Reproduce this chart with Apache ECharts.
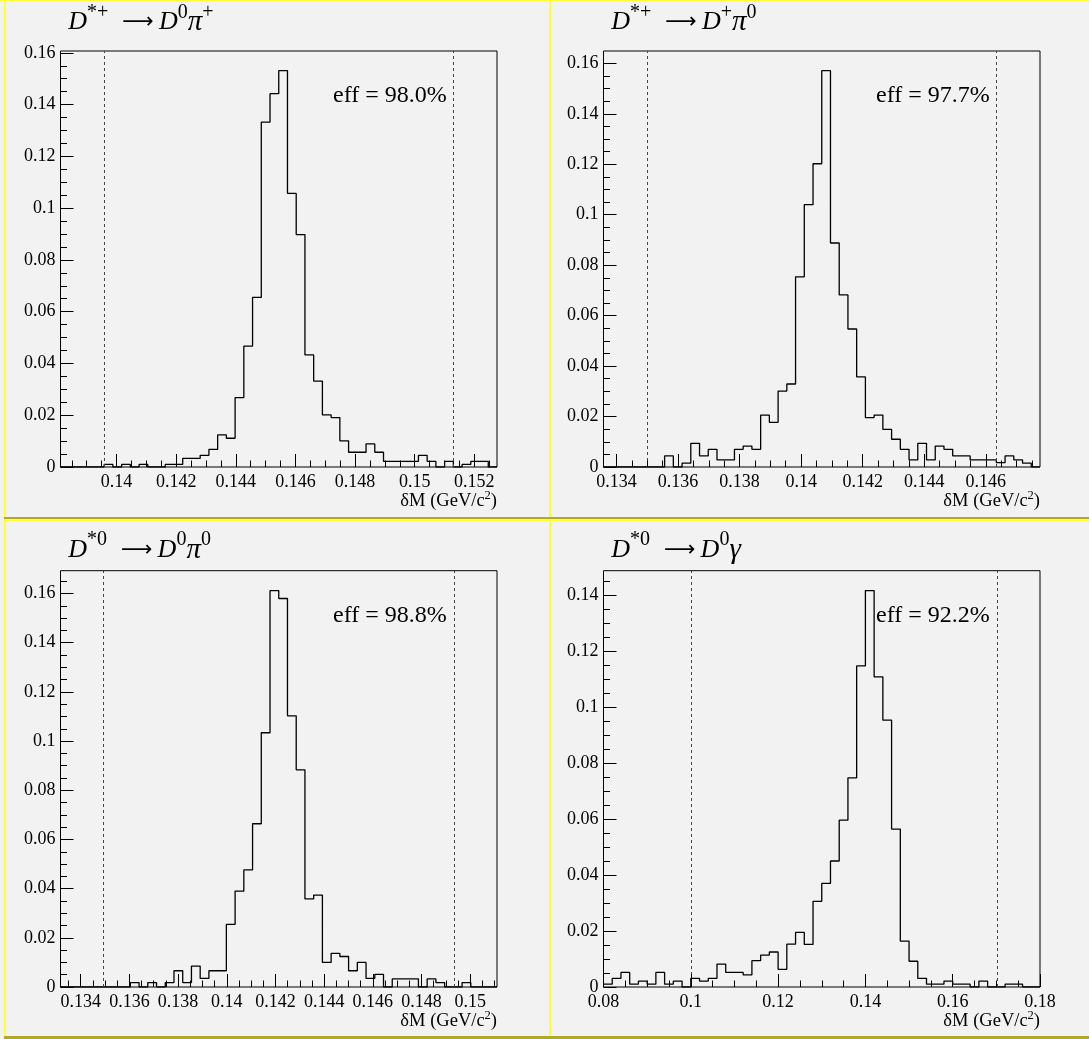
<!DOCTYPE html>
<html>
<head>
<meta charset="utf-8">
<script src="https://cdn.jsdelivr.net/npm/echarts@6/dist/echarts.min.js"></script>
<style>
    html, body { margin: 0; padding: 0; background: #f2f2f2; }
    #chart { width: 1089px; height: 1039px; }
</style>
</head>
<body>
<div id="chart"></div>
<script>
// histogram contents (50 bins each)
const binsDstpD0pi = [0, 0, 0, 0, 0, 0.001, 0, 0.001, 0, 0.001,
    0, 0, 0.001, 0.001, 0.0033, 0.0033, 0.0045, 0.0068, 0.0124, 0.0111,
    0.0268, 0.0467, 0.0655, 0.1332, 0.1442, 0.1531, 0.1057, 0.0898, 0.0433, 0.0332,
    0.0201, 0.0191, 0.0101, 0.0057, 0.0057, 0.0089, 0.0057, 0.0022, 0.0022, 0.0022,
    0.0022, 0.0045, 0.0022, 0, 0.0022, 0, 0.001, 0.0022, 0.0022, 0]
const binsDstpDppi0 = [0, 0, 0, 0, 0, 0, 0, 0.0044, 0, 0.0015,
    0.0094, 0.0044, 0.007, 0.0028, 0.0028, 0.007, 0.0083, 0.007, 0.0206, 0.0177,
    0.0301, 0.0329, 0.0754, 0.104, 0.1202, 0.1571, 0.0888, 0.0682, 0.0547, 0.0357,
    0.0196, 0.0206, 0.0149, 0.011, 0.007, 0.0028, 0.0094, 0.0028, 0.0083, 0.007,
    0.0044, 0.0044, 0.0028, 0.0028, 0.0028, 0.0017, 0.0044, 0.0028, 0.0015, 0]
const binsDst0D0pi0 = [0, 0, 0, 0, 0, 0, 0, 0, 0.0018, 0,
    0.0018, 0, 0.0018, 0.0066, 0.0018, 0.0085, 0.0035, 0.0066, 0.0066, 0.0255,
    0.039, 0.0476, 0.0664, 0.1034, 0.1612, 0.158, 0.1103, 0.0883, 0.0358, 0.0374,
    0.01, 0.0137, 0.0124, 0.0066, 0.01, 0.0035, 0.0051, 0, 0.0033, 0.0033,
    0.0033, 0, 0.0033, 0.0018, 0, 0, 0.0018, 0, 0, 0]
const binsDst0D0gam = [0.001, 0.0031, 0.0052, 0.001, 0.0021, 0.001, 0.0052, 0.001, 0.0021, 0,
    0.0031, 0.0021, 0.0031, 0.0082, 0.0052, 0.0052, 0.0043, 0.0094, 0.0114, 0.0125,
    0.0063, 0.0153, 0.0195, 0.0152, 0.0306, 0.037, 0.045, 0.0596, 0.0747, 0.1147,
    0.1416, 0.1108, 0.0953, 0.0564, 0.0164, 0.0092, 0.0031, 0.001, 0.001, 0.0021,
    0.001, 0.001, 0, 0.0021, 0, 0, 0.001, 0.001, 0, 0]

// axis ranges, cut windows (dashed lines)
const xRanges = [[0.13812, 0.15276], [0.13358, 0.14776], [0.13317, 0.1511], [0.08, 0.18]]
const yMaxes = [0.1607, 0.1649, 0.1693, 0.1487]
const cutLines = [[0.13958, 0.1513], [0.135, 0.14634], [0.13494, 0.14933], [0.1, 0.1703]]

// tick labels
const xTicks1 = [0.14, 0.142, 0.144, 0.146, 0.148, 0.15, 0.152]
const xTicks2 = [0.134, 0.136, 0.138, 0.14, 0.142, 0.144, 0.146]
const xTicks3 = [0.134, 0.136, 0.138, 0.14, 0.142, 0.144, 0.146, 0.148, 0.15]
const xTicks4 = [0.08, 0.1, 0.12, 0.14, 0.16, 0.18]
const yTicks16 = [0, 0.02, 0.04, 0.06, 0.08, 0.1, 0.12, 0.14, 0.16]
const yTicks14 = [0, 0.02, 0.04, 0.06, 0.08, 0.1, 0.12, 0.14]

const decayTitles = [
    '{d|D}{s|*+}{a|⟶}{d|D}{s|0}{p|π}{s|+}',
    '{d|D}{s|*+}{a|⟶}{d|D}{s|+}{p|π}{s|0}',
    '{d|D}{s|*0}{a|⟶}{d|D}{s|0}{p|π}{s|0}',
    '{d|D}{s|*0}{a|⟶}{d|D}{s|0}{p|γ}',
]
const effLabels = ['eff = 98.0%', 'eff = 97.7%', 'eff = 98.8%', 'eff = 92.2%']
const xAxisTitle = '{m|δM (GeV/c}{s|2}{m|)}'

const serif = 'Liberation Serif'

// layout of each pad
const panels = [
    { bins: binsDstpD0pi, xTicks: xTicks1, yTicks: yTicks16, xMinor: 0.0005, box: { left: 60.5, top: 51, width: 436.5, height: 416 }, titleTop: 2.5, effTop: 83.5 },
    { bins: binsDstpDppi0, xTicks: xTicks2, yTicks: yTicks16, xMinor: 0.0005, box: { left: 603.5, top: 51, width: 436.5, height: 416 }, titleTop: 2.5, effTop: 83.5 },
    { bins: binsDst0D0pi0, xTicks: xTicks3, yTicks: yTicks16, xMinor: 0.0005, box: { left: 60.5, top: 570.7, width: 436.5, height: 416.3 }, titleTop: 530, effTop: 604 },
    { bins: binsDst0D0gam, xTicks: xTicks4, yTicks: yTicks14, xMinor: 0.005, box: { left: 603.5, top: 570.7, width: 436.5, height: 416.3 }, titleTop: 530, effTop: 604 },
]

// tick lengths in px
const MAJOR = 13
const MINOR = 6.5

function minorValues(min, max, step, majors) {
    let out = []
    let k0 = Math.ceil(min / step - 1e-9)
    let k1 = Math.floor(max / step + 1e-9)
    for (let k = k0; k <= k1; k++) {
        let v = +(k * step).toFixed(6)
        if (!majors.some((m) => Math.abs(m - v) < step / 10)) out.push(v)
    }
    return out
}

// step outline: one point per lower bin edge + closing point at the upper edge
function histPoints(bins, min, max) {
    let w = (max - min) / bins.length
    let pts = bins.map((v, i) => [min + i * w, v])
    pts.push([max, bins[bins.length - 1]])
    return pts
}

let grids = [], xAxes = [], yAxes = [], series = [], titles = []

panels.forEach((p, i) => {
    let [xMin, xMax] = xRanges[i]
    let yMax = yMaxes[i]
    let b = p.box
    grids.push({
        left: b.left, top: b.top, width: b.width, height: b.height,
        show: true, borderColor: '#000', borderWidth: 1, backgroundColor: 'transparent',
    })
    xAxes.push({
        type: 'value', gridIndex: i, min: xMin, max: xMax, position: 'bottom',
        axisLine: { show: false, onZero: false },
        splitLine: { show: false },
        axisTick: { show: false },
        axisLabel: {
            customValues: p.xTicks, formatter: (v) => String(v), margin: 6,
            fontFamily: serif, fontSize: 18, color: '#000',
        },
    })
    yAxes.push({
        type: 'value', gridIndex: i, min: 0, max: yMax, position: 'left',
        axisLine: { show: false, onZero: false },
        splitLine: { show: false },
        axisTick: { show: false },
        axisLabel: {
            customValues: p.yTicks, formatter: (v) => String(v), margin: 5,
            fontFamily: serif, fontSize: 18, color: '#000',
        },
    })

    // inward ROOT-style ticks as short segments in data coordinates
    let xLen = (len) => len / b.height * yMax
    let yLen = (len) => len / b.width * (xMax - xMin)
    let ticks = []
    p.xTicks.map((v) => [v, MAJOR])
        .concat(minorValues(xMin, xMax, p.xMinor, p.xTicks).map((v) => [v, MINOR]))
        .forEach(([v, len]) => ticks.push([{ coord: [v, 0] }, { coord: [v, xLen(len)] }]))
    p.yTicks.map((v) => [v, MAJOR])
        .concat(minorValues(0, yMax, 0.005, p.yTicks).map((v) => [v, MINOR]))
        .forEach(([v, len]) => ticks.push([{ coord: [xMin, v] }, { coord: [xMin + yLen(len), v] }]))
    let cuts = cutLines[i].map((v) => ({ xAxis: v, lineStyle: { color: '#444', width: 1, type: [3, 3] } }))

    series.push({
        type: 'line', step: 'end', xAxisIndex: i, yAxisIndex: i,
        data: histPoints(p.bins, xMin, xMax),
        symbol: 'none', showSymbol: false, silent: true,
        lineStyle: { color: '#000', width: 1.3 },
        markLine: {
            silent: true, symbol: 'none', precision: 6, label: { show: false },
            lineStyle: { color: '#000', width: 1, type: 'solid' },
            data: cuts.concat(ticks),
        },
    })
    // decay title
    titles.push({
        text: decayTitles[i], left: b.left + 7.8, top: p.titleTop, padding: 0,
        textStyle: {
            fontWeight: 'normal',
            rich: {
                d: { fontFamily: serif, fontStyle: 'italic', fontSize: 26, lineHeight: 40, color: '#000' },
                p: { fontFamily: serif, fontStyle: 'italic', fontSize: 29, lineHeight: 40, color: '#000' },
                s: { fontFamily: serif, fontSize: 20, lineHeight: 16, verticalAlign: 'top', color: '#000' },
                a: { fontFamily: 'DejaVu Sans', fontSize: 22, lineHeight: 40, padding: [0, 5, 0, 14], color: '#000' },
            },
        },
    })
    // efficiency
    titles.push({
        text: effLabels[i], left: b.left + 272.5, top: p.effTop, padding: 0,
        textStyle: { fontFamily: serif, fontWeight: 'normal', fontSize: 24, lineHeight: 24, color: '#000' },
    })
    // x axis title
    titles.push({
        text: xAxisTitle, right: 1089 - (b.left + b.width), top: b.top + b.height + 22, padding: 0,
        textStyle: {
            fontWeight: 'normal',
            rich: {
                m: { fontFamily: serif, fontSize: 18.5, lineHeight: 24, color: '#000' },
                s: { fontFamily: serif, fontSize: 12.5, lineHeight: 14, verticalAlign: 'top', color: '#000' },
            },
        },
    })
})

// pad borders
const yellow = '#ffff38'
const olive = '#b3a82a'
const borders = [
    { type: 'rect', shape: { x: 0, y: 0, width: 1089, height: 1 }, style: { fill: yellow } },
    { type: 'rect', shape: { x: 4, y: 0, width: 2, height: 1039 }, style: { fill: yellow } },
    { type: 'rect', shape: { x: 549, y: 0, width: 2, height: 1039 }, style: { fill: yellow } },
    { type: 'rect', shape: { x: 4, y: 517, width: 1085, height: 2 }, style: { fill: olive } },
    { type: 'rect', shape: { x: 4, y: 519, width: 1085, height: 2 }, style: { fill: yellow } },
    { type: 'rect', shape: { x: 4, y: 1036, width: 1085, height: 3 }, style: { fill: olive } },
]

const myChart = echarts.init(document.getElementById('chart'))
myChart.setOption({
    backgroundColor: '#f2f2f2',
    animation: false,
    title: titles,
    grid: grids,
    xAxis: xAxes,
    yAxis: yAxes,
    series: series,
    graphic: borders,
})
</script>
</body>
</html>
